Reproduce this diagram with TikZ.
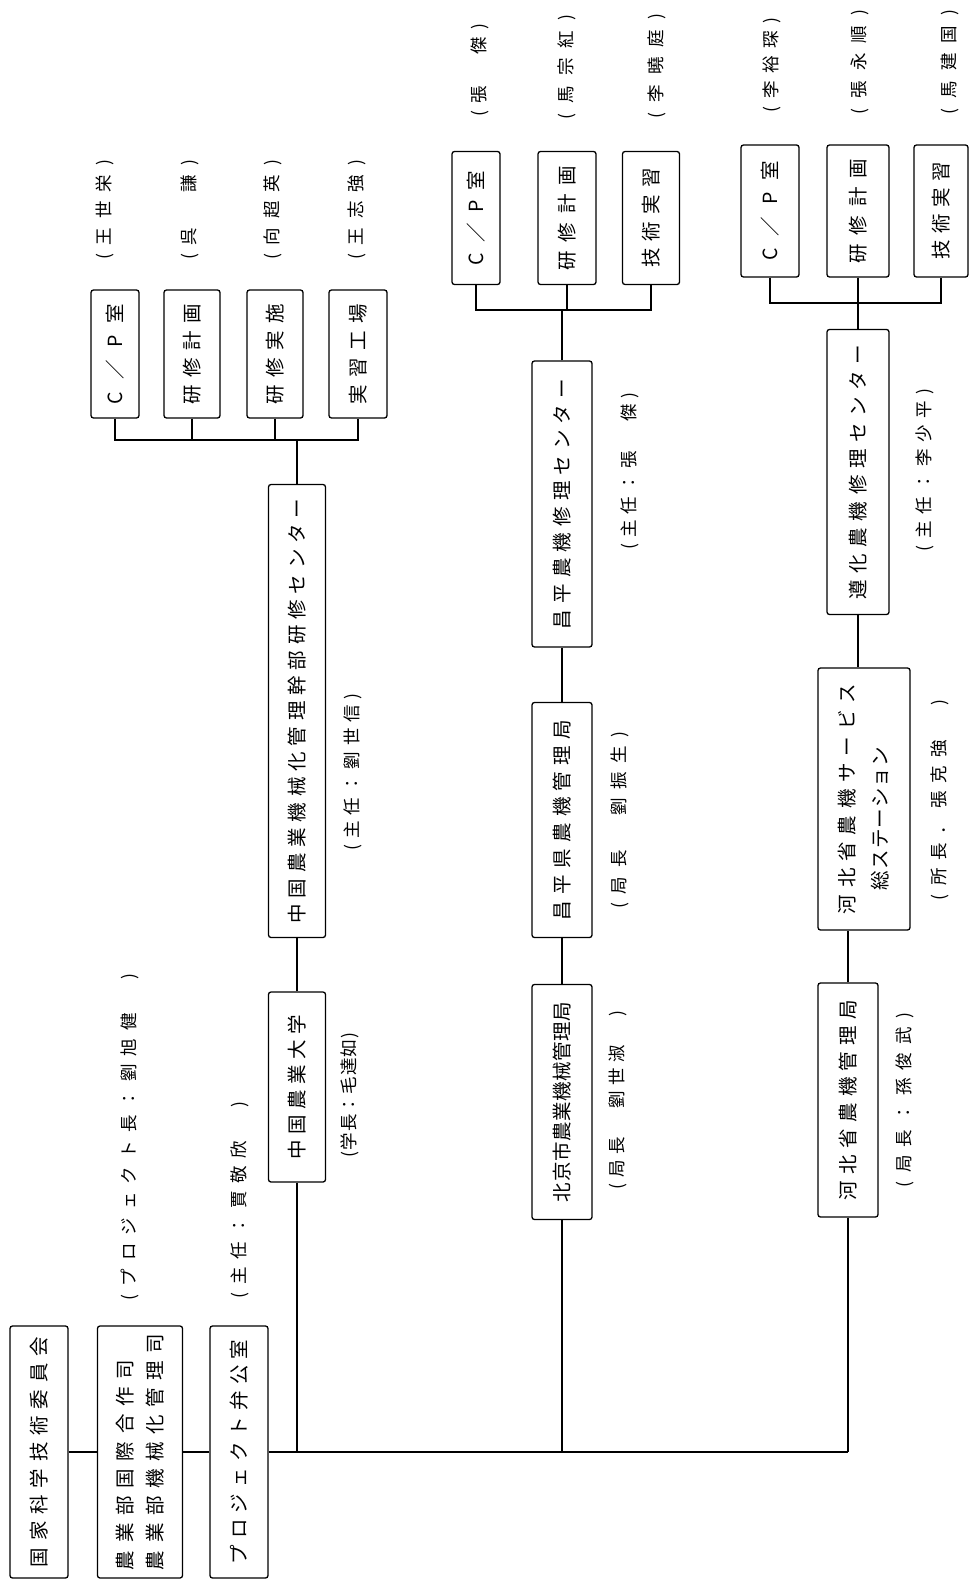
\documentclass[tikz,border=0pt]{standalone}
\usepackage{fontspec}
\newfontfamily\jp{Noto Sans CJK JP}
\makeatletter
\def\spread#1#2{\hbox to #1{\spr@a#2\relax}}
\def\spr@a#1{#1\spr@b}
\def\spr@b#1{\ifx\relax#1\else\hfil#1\expandafter\spr@b\fi}
\makeatother
\begin{document}
\begin{tikzpicture}[x=1pt,y=-1pt,
  box/.style={draw, line width=1.3pt, rounded corners=2.5pt, rotate=90, inner sep=0pt,
    font=\jp\fontsize{19.5}{22}\selectfont},
  bx/.style 2 args={box, minimum width=#1, minimum height=#2},
  lbl/.style={rotate=90, inner sep=0pt, font=\jp\fontsize{17.5}{20}\selectfont},
  conn/.style={line width=1.3pt}]
\useasboundingbox (0,0) rectangle (974,1589);

% left column
\node[bx={252}{58}] (b1) at (39,1452) {\spread{230pt}{国家科学技術委員会}};
\node[bx={252}{85}] (b2) at (140,1452) {\vbox{\baselineskip=30pt\hbox{\spread{210pt}{農業部国際合作司}}\hbox{\spread{236pt}{農業部機械化管理司}}}};
\node[bx={252}{58}] (b3) at (239,1452) {\spread{225pt}{プロジェクト弁公室}};
\node[lbl] (lpl) at (130,1137) {\spread{327pt}{(プロジェクト長：劉旭健　)}};
\node[lbl] (ldir) at (240,1200) {\spread{197pt}{(主任：賈敬欣　)}};

% column 1
\node[bx={190}{57}] (c1) at (297,1087) {\spread{145pt}{中国農業大学}};
\node[lbl] (lc1) at (350,1095) {\spread{125pt}{(学長：毛達如)}};
\node[bx={453}{57}] (c2) at (297,711) {\spread{425pt}{中国農業機械化管理幹部研修センター}};
\node[lbl] (lc2) at (353,772) {\spread{157pt}{(主任：劉世信)}};
\node[bx={128}{48}] (k1) at (115,354) {\spread{100pt}{C／P室}};
\node[bx={128}{56}] (k2) at (192,354) {\spread{100pt}{研修計画}};
\node[bx={128}{56}] (k3) at (275,354) {\spread{100pt}{研修実施}};
\node[bx={128}{58}] (k4) at (358,354) {\spread{100pt}{実習工場}};
\node[lbl] (lk1) at (105,210) {\spread{100pt}{(王世栄)}};
\node[lbl] (lk2) at (190,210) {\spread{100pt}{(呉　謙)}};
\node[lbl] (lk3) at (273,210) {\spread{100pt}{(向超英)}};
\node[lbl] (lk4) at (357,210) {\spread{100pt}{(王志強)}};

% column 2
\node[bx={133}{48}] (m1) at (476,218) {\spread{95pt}{C／P室}};
\node[bx={133}{58}] (m2) at (567,218) {\spread{105pt}{研修計画}};
\node[bx={133}{57}] (m3) at (651,218) {\spread{100pt}{技術実習}};
\node[lbl] (lm1) at (480,70) {\spread{93pt}{(張　傑)}};
\node[lbl] (lm2) at (567,67) {\spread{105pt}{(馬宗紅)}};
\node[lbl] (lm3) at (657,66) {\spread{105pt}{(李曉庭)}};
\node[bx={286}{60}] (d1) at (562,504) {\spread{250pt}{昌平農機修理センター}};
\node[lbl] (ld1) at (630,471) {\spread{157pt}{(主任：張　傑)}};
\node[bx={235}{60}] (d2) at (562,820) {\spread{200pt}{昌平県農機管理局}};
\node[lbl] (ld2) at (620,820) {\spread{177pt}{(局長　劉振生)}};
\node[bx={235}{60}] (d3) at (562,1102) {\spread{200pt}{北京市農業機械管理局}};
\node[lbl] (ld3) at (618,1100) {\spread{178pt}{(局長　劉世淑　)}};

% column 3
\node[bx={132}{58}] (n1) at (770,211) {\spread{100pt}{C／P室}};
\node[bx={132}{62}] (n2) at (858,211) {\spread{105pt}{研修計画}};
\node[bx={132}{54}] (n3) at (941,211) {\spread{98pt}{技術実習}};
\node[lbl] (ln1) at (772,65) {\spread{95pt}{(李裕琛)}};
\node[lbl] (ln2) at (860,62) {\spread{105pt}{(張永順)}};
\node[lbl] (ln3) at (950,62) {\spread{105pt}{(馬建国)}};
\node[bx={285}{62}] (f1) at (858,472) {\spread{255pt}{遵化農機修理センター}};
\node[lbl] (lf1) at (925,470) {\spread{162pt}{(主任：李少平)}};
\node[bx={262}{92}] (f2) at (864,799) {\vbox{\baselineskip=33pt\hbox{\spread{230pt}{河北省農機サービス}}\hbox{\hspace*{24pt}\spread{143pt}{総ステーション}}}};
\node[lbl] (lf2) at (940,800) {\spread{200pt}{(所長．張克強　)}};
\node[bx={234}{60}] (f3) at (848,1100) {\spread{200pt}{河北省農機管理局}};
\node[lbl] (lf3) at (905,1100) {\spread{174pt}{(局長：孫俊武)}};

% connectors
\draw[conn] (b1.south) -- (b2.north);
\draw[conn] (b2.south) -- (b3.north);
\draw[conn] (b3.south) -- (b3.south -| f3.west);
\draw[conn] (c1.west) -- (c1.west |- b3.south);
\draw[conn] (d3.west) -- (d3.west |- b3.south);
\draw[conn] (f3.west) -- (f3.west |- b3.south);
\draw[conn] (c1.east) -- (c2.west);
\draw[conn] (d3.east) -- (d2.west);
\draw[conn] (d2.east) -- (d1.west);
\draw[conn] (f3.east) -- (f3.east |- f2.west);
\draw[conn] (f1.west) -- (f1.west |- f2.east);

\coordinate (kb) at (297,440);
\draw[conn] (k1.west) |- (kb) -| (k4.west);
\draw[conn] (k2.west) -- (k2.west |- kb);
\draw[conn] (k3.west) -- (k3.west |- kb);
\draw[conn] (c2.east) -- (kb);

\coordinate (mb) at (562,310);
\draw[conn] (m1.west) |- (mb) -| (m3.west);
\draw[conn] (m2.west) -- (m2.west |- mb);
\draw[conn] (d1.east) -- (mb);

\coordinate (nb) at (858,303);
\draw[conn] (n1.west) |- (nb) -| (n3.west);
\draw[conn] (n2.west) -- (n2.west |- nb);
\draw[conn] (f1.east) -- (nb);
\end{tikzpicture}
\end{document}
